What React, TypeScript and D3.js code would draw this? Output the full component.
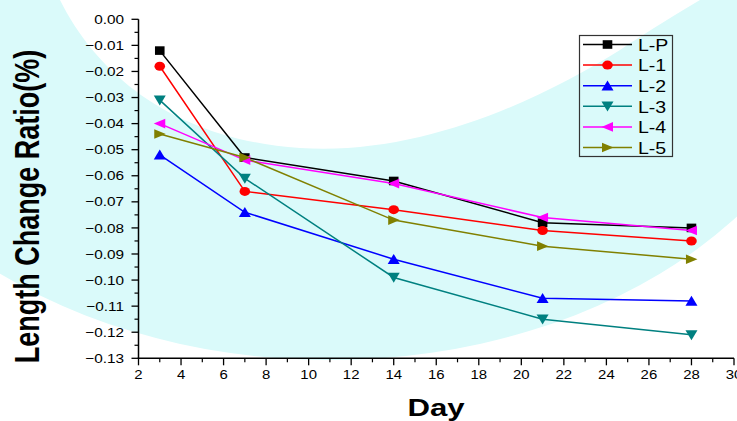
import React from "react";
import * as d3 from "d3";

// days of measurement
const days = [3, 7, 14, 21, 28];

// length change ratio (%) per mix
const seriesNames = ["L-P", "L-1", "L-2", "L-3", "L-4", "L-5"];
const lpValues = [-0.012, -0.053, -0.062, -0.078, -0.080];
const l1Values = [-0.018, -0.066, -0.073, -0.081, -0.085];
const l2Values = [-0.052, -0.074, -0.092, -0.107, -0.108];
const l3Values = [-0.031, -0.061, -0.099, -0.115, -0.121];
const l4Values = [-0.040, -0.054, -0.063, -0.076, -0.081];
const l5Values = [-0.044, -0.053, -0.077, -0.087, -0.092];
const allValues = [lpValues, l1Values, l2Values, l3Values, l4Values, l5Values];

const xTickValues = [2, 4, 6, 8, 10, 12, 14, 16, 18, 20, 22, 24, 26, 28, 30];
const yTickValues = [0, -0.01, -0.02, -0.03, -0.04, -0.05, -0.06, -0.07, -0.08, -0.09, -0.1, -0.11, -0.12, -0.13];

const colors = ["#000000", "#ff0000", "#0000ff", "#008080", "#ff00ff", "#808000"];
const markers = ["square", "circle", "up", "down", "left", "right"];

const width = 737;
const height = 421;
const FONT = "Liberation Sans, Arial, Helvetica, sans-serif";

function Marker({ kind, x, y, color }) {
  if (kind === "circle") {
    return <ellipse cx={x} cy={y} rx={5.3} ry={4.5} fill={color} />;
  }
  let d = "";
  if (kind === "square") d = "M-4.8,-4.3H4.8V4.3H-4.8Z";
  if (kind === "up") d = "M0,-5.3L6,4.7L-6,4.7Z";
  if (kind === "down") d = "M0,5.3L6,-4.7L-6,-4.7Z";
  if (kind === "left") d = "M-6,0L5.5,-4.8L5.5,4.8Z";
  if (kind === "right") d = "M6,0L-5.5,-4.8L-5.5,4.8Z";
  return <path d={d} transform={`translate(${x},${y})`} fill={color} />;
}

export default function App() {
  const x = d3.scaleLinear().domain([2, 30]).range([138.5, 734]);
  const y = d3.scaleLinear().domain([0, -0.13]).range([19.3, 358.3]);
  const fmt = d3.format(".2f");

  const line = d3
    .line()
    .x((d) => x(d[0]))
    .y((d) => y(d[1]));

  const xMinor = d3.range(2, 31, 1).filter((v) => v % 2 !== 0);
  const yMinor = d3.range(0, 13).map((i) => -(i + 0.5) / 100);

  const x0 = x(2);
  const yBase = y(-0.13);

  // legend placement
  const legX = 579.5;
  const legY = 35.5;
  const rowH = 20.6;

  return (
    <svg
      width={width}
      height={height}
      style={{ position: "absolute", left: 0, top: 0, background: "#ffffff" }}
      fontFamily={FONT}
    >
      {/* watermark band */}
      <path
        d="M-190,-20A520,380 0 1,0 850,-20A520,380 0 1,0 -190,-20Z M60,0 C100,80 180,140 300,148 C420,156 540,100 620,50 C650,30 680,12 700,0Z"
        fill="#dafafa"
        fillRule="evenodd"
      />

      {/* series */}
      {allValues.map((vals, i) => (
        <path
          key={"l" + i}
          d={line(days.map((d, j) => [d, vals[j]]))}
          fill="none"
          stroke={colors[i]}
          strokeWidth={1.5}
        />
      ))}
      {allValues.map((vals, i) =>
        days.map((d, j) => (
          <Marker key={"m" + i + "-" + j} kind={markers[i]} x={x(d)} y={y(vals[j])} color={colors[i]} />
        ))
      )}

      {/* y axis */}
      <line x1={x0} x2={x0} y1={y(0)} y2={yBase} stroke="#000" strokeWidth={1.5} />
      {yTickValues.map((v) => (
        <g key={"yt" + v}>
          <line x1={x0 - 7} x2={x0} y1={y(v)} y2={y(v)} stroke="#000" strokeWidth={1.3} />
          <text
            transform={`translate(124,${y(v) + 4.6}) scale(1.18,1)`}
            textAnchor="end"
            fontSize={13}
            fill="#000"
          >
            {fmt(v)}
          </text>
        </g>
      ))}
      {yMinor.map((v) => (
        <line key={"ym" + v} x1={x0 - 4} x2={x0} y1={y(v)} y2={y(v)} stroke="#000" strokeWidth={1.2} />
      ))}

      {/* x axis */}
      <line x1={x0 - 0.75} x2={x(30)} y1={yBase} y2={yBase} stroke="#000" strokeWidth={1.5} />
      {xTickValues.map((v) => (
        <g key={"xt" + v}>
          <line x1={x(v)} x2={x(v)} y1={yBase} y2={yBase + 7} stroke="#000" strokeWidth={1.3} />
          <text
            transform={`translate(${x(v)},379) scale(1.15,1)`}
            textAnchor="middle"
            fontSize={13}
            fill="#000"
          >
            {v}
          </text>
        </g>
      ))}
      {xMinor.map((v) => (
        <line key={"xm" + v} x1={x(v)} x2={x(v)} y1={yBase} y2={yBase + 4} stroke="#000" strokeWidth={1.2} />
      ))}

      {/* axis titles */}
      <text
        transform="translate(436,416) scale(1.3,1)"
        textAnchor="middle"
        fontSize={24}
        fontWeight="bold"
        fill="#000"
      >
        Day
      </text>
      <text
        transform="translate(39,206.5) scale(1.28,1) rotate(-90)"
        textAnchor="middle"
        fontSize={27}
        fontWeight="bold"
        fill="#000"
      >
        Length Change Ratio(%)
      </text>

      {/* legend */}
      <rect x={legX} y={legY} width={93} height={121} fill="none" stroke="#333" strokeWidth={1.2} />
      {seriesNames.map((name, i) => {
        const ry = legY + 9 + i * rowH;
        return (
          <g key={"lg" + name}>
            <line x1={583} x2={632} y1={ry} y2={ry} stroke={colors[i]} strokeWidth={1.5} />
            <Marker kind={markers[i]} x={607.5} y={ry} color={colors[i]} />
            <text
              transform={`translate(638,${ry + 6.2}) scale(1.15,1)`}
              fontSize={17}
              fill="#000"
            >
              {name}
            </text>
          </g>
        );
      })}
    </svg>
  );
}
